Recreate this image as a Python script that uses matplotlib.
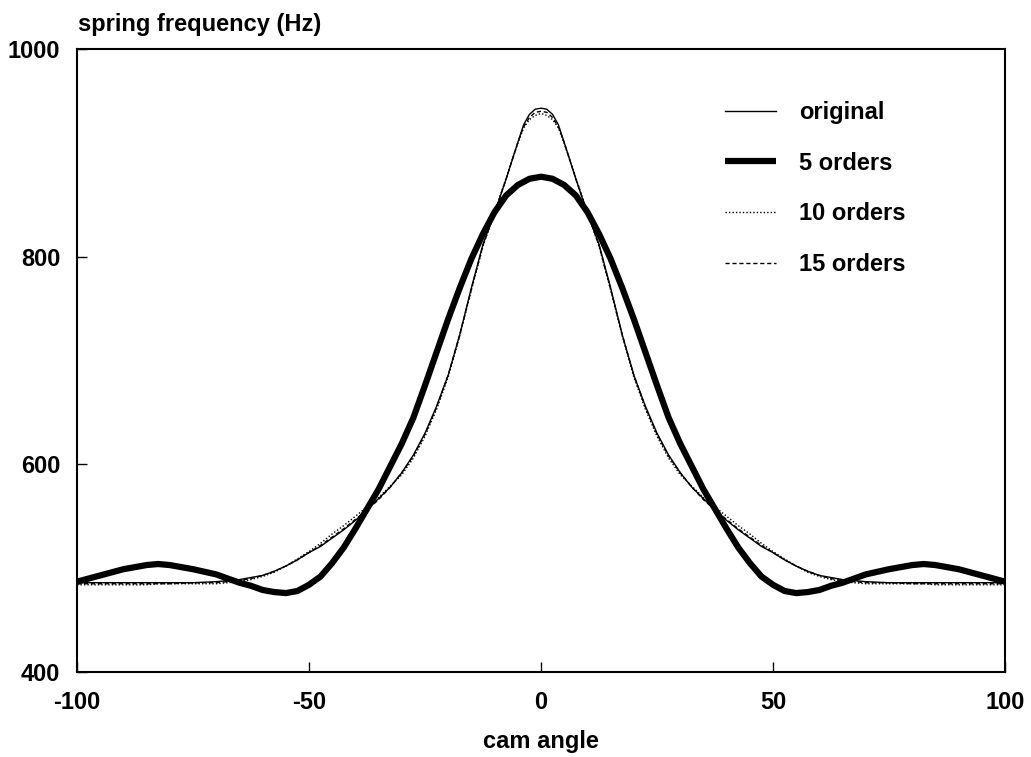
import numpy as np
import matplotlib.pyplot as plt

plt.rcParams['font.family'] = ['Liberation Sans', 'DejaVu Sans']
plt.rcParams['font.weight'] = 'bold'
plt.rcParams['axes.labelweight'] = 'bold'
plt.rcParams['axes.unicode_minus'] = False

# cam angle (deg)
angle = [-100, -95, -90, -85, -82.5, -80, -75, -70, -67.5, -65, -62.5, -60, -57.5, -55,
         -52.5, -50, -47.5, -45, -42.5, -40, -37.5, -35, -32.5, -30, -27.5, -25, -22.5,
         -20, -17.5, -15, -12.5, -10, -7.5, -5, -3.75, -2.5, -1.25, 0,
         1.25, 2.5, 3.75, 5, 7.5, 10, 12.5, 15, 17.5, 20, 22.5, 25, 27.5, 30, 32.5, 35, 37.5,
         40, 42.5, 45, 47.5, 50, 52.5, 55, 57.5, 60, 62.5, 65, 67.5, 70, 75, 80,
         82.5, 85, 90, 95, 100]

original = [486, 486, 486, 486, 486, 486, 486, 487, 488, 489, 491, 493, 497, 502,
            508, 515, 521, 529, 537, 546, 556, 567, 578, 592, 609, 630, 656,
            686, 725, 770, 812, 842, 875, 910, 927, 937, 942, 943,
            942, 937, 927, 910, 875, 842, 812, 770, 725, 686, 656, 630, 609, 592, 578, 567, 556,
            546, 537, 529, 521, 515, 508, 502, 497, 493, 491, 489, 488, 487, 486, 486,
            486, 486, 486, 486, 486]

orders5 = [487, 493, 499, 503, 504, 503, 499, 494, 490, 486, 483, 479, 477, 476,
           478, 484, 492, 505, 520, 538, 557, 576, 598, 620, 645, 676, 708,
           740, 770, 798, 822, 843, 859, 869, 872, 875, 876, 877,
           876, 875, 872, 869, 859, 843, 822, 798, 770, 740, 708, 676, 645, 620, 598, 576, 557,
           538, 520, 505, 492, 484, 478, 476, 477, 479, 483, 486, 490, 494, 499, 503,
           504, 503, 499, 493, 487]

orders10 = [484, 484, 484, 484, 485, 485, 485, 485, 486, 487, 489, 492, 496, 502,
            509, 516, 524, 533, 541, 550, 559, 568, 579, 590, 606, 627, 653,
            684, 724, 768, 810, 843, 876, 909, 924, 932, 936, 938,
            936, 932, 924, 909, 876, 843, 810, 768, 724, 684, 653, 627, 606, 590, 579, 568, 559,
            550, 541, 533, 524, 516, 509, 502, 496, 492, 489, 487, 486, 485, 485, 485,
            485, 484, 484, 484, 484]

orders15 = [485, 485, 485, 485, 485, 485, 486, 486, 487, 488, 490, 493, 497, 502,
            508, 515, 522, 530, 538, 547, 556, 566, 578, 592, 608, 629, 655,
            686, 725, 769, 811, 842, 875, 910, 925, 934, 939, 940,
            939, 934, 925, 910, 875, 842, 811, 769, 725, 686, 655, 629, 608, 592, 578, 566, 556,
            547, 538, 530, 522, 515, 508, 502, 497, 493, 490, 488, 487, 486, 486, 485,
            485, 485, 485, 485, 485]

labels = ['original', '5 orders', '10 orders', '15 orders']

fig = plt.figure(figsize=(10.31, 7.57), dpi=100)
ax = fig.add_axes([77/1031, 1-672/757, (1005-77)/1031, (672-49)/757])

ax.plot(angle, original, color='black', lw=1.0, label=labels[0])
ax.plot(angle, orders5, color='black', lw=4.5, solid_capstyle='butt', label=labels[1])
ax.plot(angle, orders10, color='black', lw=1.0, ls=(0, (1, 1.5)), label=labels[2])
ax.plot(angle, orders15, color='black', lw=1.0, ls=(0, (3, 2)), label=labels[3])

ax.set_xlim(-100, 100)
ax.set_ylim(400, 1000)
ax.set_xticks([-100, -50, 0, 50, 100])
ax.set_yticks([400, 600, 800, 1000])
ax.tick_params(direction='in', length=7, width=1, top=False, right=False, labelsize=17)
ax.tick_params(axis='x', pad=14)
ax.tick_params(axis='y', pad=12)
for s in ax.spines.values():
    s.set_linewidth(1.5)

ax.set_xlabel('cam angle', fontsize=17, labelpad=11)
fig.text(78/1031, 1-31/757, 'spring frequency (Hz)', fontsize=17, va='baseline', ha='left')

ax.legend(loc='upper left', bbox_to_anchor=(725/1031, 1-101/757), bbox_transform=fig.transFigure,
          frameon=False, fontsize=17, handlelength=2.15, handletextpad=1.0,
          labelspacing=1.17, borderpad=0, borderaxespad=0)

fig.savefig('out.png', dpi=100)
